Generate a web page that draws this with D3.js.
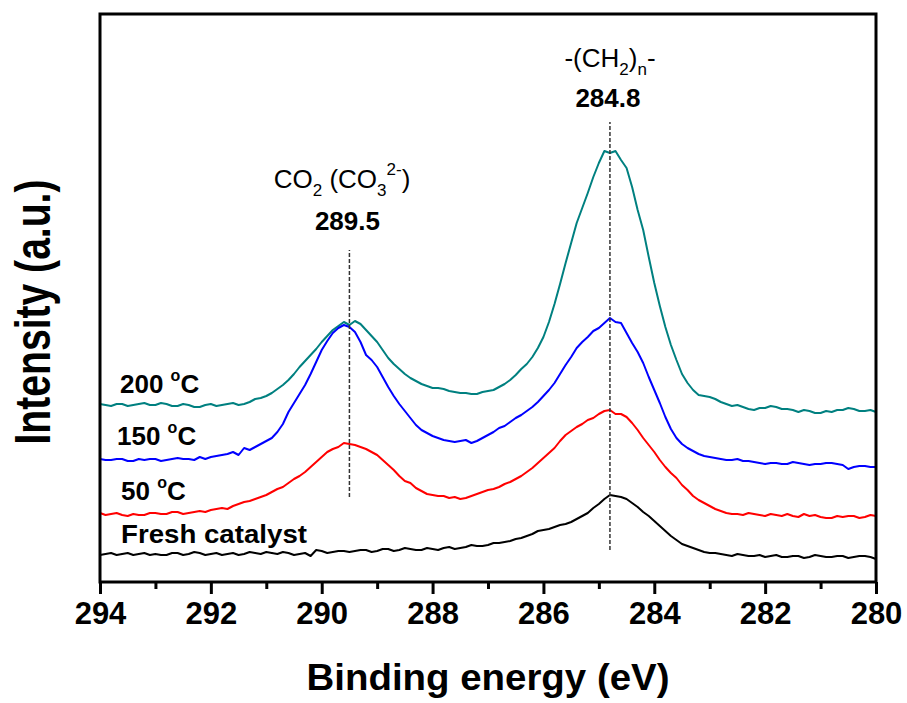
<!DOCTYPE html>
<html><head><meta charset="utf-8">
<script src="https://cdn.jsdelivr.net/npm/d3@7"></script>
<style>
html,body{margin:0;padding:0;background:#fff;}
svg{display:block;font-family:"Liberation Sans",Arial,Helvetica,sans-serif;}
</style></head>
<body><svg id="chart" width="907" height="703"></svg>
<script>
// Binding energy grid (eV), 294 -> 280 in 0.1 eV steps
const energy = d3.range(0, 141).map(i => +(294 - i * 0.1).toFixed(1));

// Intensities (a.u., offset-stacked as in the figure), one row per 1 eV
const fresh = [
  45,46,47,45,46,47,45,46,47,45,
  46,45,45,47,47,45,46,48,47,45,
  46,47,45,46,47,45,46,48,47,46,
  48,47,46,48,47,45,46,47,44,50,
  49,47,48,49,49,48,49,50,50,48,
  49,51,51,49,50,52,51,50,50,52,
  51,50,52,53,51,52,53,55,54,54,
  55,57,57,58,59,61,62,64,66,69,
  70,71,73,75,76,78,81,84,87,92,
  96,101,105,104,103,101,97,93,88,84,
  79,74,69,64,60,56,54,52,50,48,
  47,47,46,45,44,46,45,44,44,45,
  43,44,45,43,43,44,44,42,43,45,
  44,43,43,44,44,42,43,44,44,43,
  41];
const c50 = [
  87,85,86,87,85,84,86,85,85,87,
  87,86,86,88,88,86,87,88,89,88,
  90,91,92,91,94,96,98,99,101,103,
  105,108,111,113,117,121,124,128,133,138,
  143,148,151,153,157,156,155,153,151,148,
  145,140,135,130,124,119,117,112,109,106,
  105,104,104,102,103,101,102,104,106,108,
  110,111,113,116,118,121,124,128,132,137,
  142,147,152,159,165,169,173,176,180,182,
  186,189,190,186,186,183,177,170,162,155,
  148,140,133,127,122,115,110,104,100,97,
  94,91,89,87,86,86,85,87,86,85,
  84,86,85,84,86,84,83,86,84,85,
  83,82,82,84,83,84,84,82,83,85,
  84];
const c150 = [
  141,140,140,141,141,139,139,141,140,141,
  141,139,140,141,142,141,141,140,143,141,
  143,144,145,146,148,145,152,150,153,156,
  159,162,168,176,188,197,206,215,226,238,
  250,259,267,272,275,273,268,258,245,240,
  233,223,213,204,196,189,182,175,170,167,
  164,162,160,159,158,159,160,157,159,162,
  165,168,172,174,178,182,185,189,193,198,
  204,210,217,226,235,243,252,258,263,269,
  272,277,282,278,277,267,257,248,237,223,
  210,197,183,171,162,156,152,149,146,144,
  143,142,141,140,140,141,139,139,138,137,
  136,137,137,136,136,138,137,136,135,136,
  136,137,137,136,135,131,133,134,134,133,
  133];
const c200 = [
  196,195,194,196,196,194,195,196,197,195,
  195,197,196,194,194,196,195,193,193,195,
  196,194,195,196,197,195,196,198,201,202,
  204,207,211,215,220,226,233,239,245,251,
  258,264,270,274,278,275,279,276,270,264,
  258,250,242,236,231,226,222,219,216,214,
  212,212,211,209,208,207,207,206,206,208,
  209,210,213,216,220,225,231,236,243,252,
  263,278,296,316,337,357,377,392,407,423,
  437,449,447,449,440,432,413,390,370,343,
  317,294,273,255,240,226,217,210,205,204,
  203,201,198,196,194,195,193,191,190,192,
  192,194,193,191,191,190,188,190,189,187,
  187,189,188,190,190,192,191,189,189,190,
  188];

const seriesNames = ["Fresh catalyst", "50 °C", "150 °C", "200 °C"];
const seriesColors = ["#000000", "#ff0000", "#0000ff", "#008080"];
const seriesData = [fresh, c50, c150, c200];

const xTicksMajor = [294, 292, 290, 288, 286, 284, 282, 280];
const xTicksMinor = [293, 291, 289, 287, 285, 283, 281];

const peakEnergies = [289.5, 284.8];
const peakLabels = ["289.5", "284.8"];
const peakLineLow = [103, 50];
const peakLineHigh = [350, 478];

const svg = d3.select("#chart");
const L = 100, R = 876, T = 14, B = 582;

const x = d3.scaleLinear().domain([294, 280]).range([L, R]);
const y = d3.scaleLinear().domain([18, 586]).range([B, T]);

// curves
const line = d3.line().x(d => x(d[0])).y(d => y(d[1]));
const drawOrder = [0, 1, 3, 2];
drawOrder.forEach(k => {
  svg.append("path")
    .datum(energy.map((e, i) => [e, seriesData[k][i]]))
    .attr("d", line)
    .attr("fill", "none")
    .attr("stroke", seriesColors[k])
    .attr("stroke-width", 2)
    .attr("stroke-linejoin", "round");
});

// dashed peak lines
peakEnergies.forEach((p, i) => {
  svg.append("line")
    .attr("x1", x(p)).attr("x2", x(p))
    .attr("y1", y(peakLineLow[i])).attr("y2", y(peakLineHigh[i]))
    .attr("stroke", "#333").attr("stroke-width", 1.5)
    .attr("stroke-dasharray", "4,2");
});

// frame
svg.append("rect").attr("x", L).attr("y", T).attr("width", R - L).attr("height", B - T)
  .attr("fill", "none").attr("stroke", "#000").attr("stroke-width", 3);

// x axis
const xAxis = d3.axisBottom(x).tickValues(xTicksMajor).tickSize(12).tickPadding(6).tickFormat(d3.format("d"));
const gx = svg.append("g").attr("transform", `translate(0,${B})`).call(xAxis);
gx.select(".domain").remove();
gx.selectAll(".tick line").attr("stroke", "#000").attr("stroke-width", 3);
gx.selectAll(".tick text").attr("font-size", 31).attr("font-weight", "bold").attr("fill", "#000")
  .attr("font-family", "Liberation Sans, Arial, sans-serif").attr("dy", "0.71em").attr("y", 20);
const gxm = svg.append("g").attr("transform", `translate(0,${B})`)
  .call(d3.axisBottom(x).tickValues(xTicksMinor).tickSize(7).tickFormat(""));
gxm.select(".domain").remove();
gxm.selectAll(".tick line").attr("stroke", "#000").attr("stroke-width", 3);

// axis titles
svg.append("text").attr("x", 488).attr("y", 690).attr("text-anchor", "middle")
  .attr("font-size", 36).attr("font-weight", "bold")
  .attr("textLength", 363).attr("lengthAdjust", "spacingAndGlyphs")
  .text("Binding energy (eV)");
svg.append("text").attr("transform", "translate(50,312) rotate(-90)").attr("text-anchor", "middle")
  .attr("font-size", 50).attr("font-weight", "bold")
  .attr("textLength", 265).attr("lengthAdjust", "spacingAndGlyphs")
  .text("Intensity (a.u.)");

// series labels
const labelX = [121, 121, 117, 120];
const labelY = [543, 500, 445, 393];
seriesNames.forEach((n, k) => {
  const t = svg.append("text").attr("x", labelX[k]).attr("y", labelY[k])
    .attr("font-size", 26).attr("font-weight", "bold").attr("fill", "#000");
  if (n.includes("°C")) {
    t.append("tspan").text(n.replace(" °C", " "));
    t.append("tspan").attr("font-size", 16).attr("dy", -12).text("o");
    t.append("tspan").attr("dy", 12).text("C");
  } else {
    t.attr("textLength", 186).attr("lengthAdjust", "spacingAndGlyphs").text(n);
  }
});

// peak annotations
const a1 = svg.append("text").attr("x", 342).attr("y", 188).attr("text-anchor", "middle")
  .attr("font-size", 26).attr("fill", "#000");
a1.append("tspan").text("CO");
a1.append("tspan").attr("font-size", 17).attr("dy", 8).text("2");
a1.append("tspan").attr("dy", -8).text(" (CO");
a1.append("tspan").attr("font-size", 17).attr("dy", 8).text("3");
a1.append("tspan").attr("font-size", 17).attr("dy", -21).text("2-");
a1.append("tspan").attr("dy", 13).text(")");

const a2 = svg.append("text").attr("x", 610).attr("y", 67).attr("text-anchor", "middle")
  .attr("font-size", 26).attr("fill", "#000");
a2.append("tspan").text("-(CH");
a2.append("tspan").attr("font-size", 17).attr("dy", 8).text("2");
a2.append("tspan").attr("dy", -8).text(")");
a2.append("tspan").attr("font-size", 17).attr("dy", 8).text("n");
a2.append("tspan").attr("dy", -8).text("-");

peakEnergies.forEach((p, i) => {
  svg.append("text").attr("x", x(p) - 2).attr("y", i === 0 ? 230 : 107).attr("text-anchor", "middle")
    .attr("font-size", 26).attr("font-weight", "bold").attr("fill", "#000")
    .text(peakLabels[i]);
});
</script></body></html>
